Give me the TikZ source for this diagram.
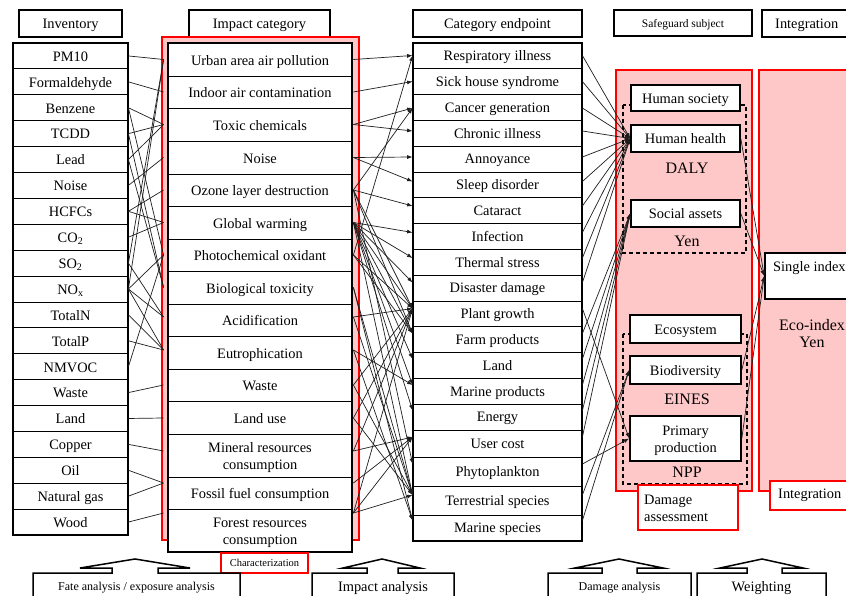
\documentclass[tikz,border=0pt]{standalone}
\usepackage{fontspec}
\setmainfont{Liberation Serif}
\usetikzlibrary{arrows.meta,calc}
\definecolor{pinkfill}{RGB}{255,200,200}
\definecolor{framered}{RGB}{255,0,0}
\definecolor{linkgray}{RGB}{30,30,30}
\begin{document}
\begin{tikzpicture}[x=1pt,y=-1pt,
  mainfont/.style={font=\fontsize{14.4}{17}\selectfont},
  cell/.style={draw, line width=0.8pt, fill=white, inner sep=0pt},
  one/.style={inner sep=0pt, mainfont, text height=9.8pt, text depth=3.1pt},
  two/.style={inner sep=0pt, mainfont, align=center},
  head/.style={draw, line width=1.6pt, fill=white, inner sep=0pt},
  sbox/.style={draw, line width=1.6pt, fill=white, inner sep=0pt},
  unit/.style={font=\fontsize{16}{18}\selectfont, inner sep=0pt},
  link/.style={draw=linkgray, line width=0.7pt},
  alink/.style={link, -{Latex[length=5.5pt,width=4pt]}},
  redbox/.style={draw=framered, line width=1.8pt, fill=white, inner sep=0pt},
  pinkframe/.style={draw=framered, line width=2pt, fill=pinkfill},
  dashframe/.style={draw, line width=1.2pt, dash pattern=on 4pt off 3pt},
  tool/.style={draw, line width=1.5pt, fill=white, line join=miter}
]
\clip (0,0) rectangle (846,596);
\fill[white] (0,0) rectangle (846,596);

% ---------- column headers ----------
\node[head, minimum width=103pt, minimum height=27pt] (hInv) at (70.5,23.5) {};
\node[one] (hInvT) at ([yshift=-2pt]hInv.center) {Inventory};
\node[head, minimum width=141pt, minimum height=27pt] (hImp) at (259.5,23.5) {};
\node[one] (hImpT) at ([yshift=-2pt]hImp.center) {Impact category};
\node[head, minimum width=169pt, minimum height=27pt] (hEnd) at (497.5,23.5) {};
\node[one] (hEndT) at ([yshift=-2pt]hEnd.center) {Category endpoint};
\node[head, minimum width=138pt, minimum height=26pt] (hSafe) at (683,23) {};
\node[inner sep=0pt, font=\fontsize{11.5}{13}\selectfont, text height=7.8pt, text depth=2.5pt] (hSafeT) at ([yshift=-1.5pt]hSafe.center) {Safeguard subject};
\node[head, minimum width=90pt, minimum height=27pt] (hInt) at (807,23.5) {};
\node[one, anchor=west] (hIntT) at (775,25.5) {Integration};

% ---------- pink frames ----------
\path[pinkframe] (162,37) rectangle (359,540);
\path[pinkframe] (616,70) rectangle (752,491);
\path[pinkframe] (759,70) rectangle (852,491);

% ---------- inventory ----------
\foreach \txt [count=\i from 0] in {PM10, Formaldehyde, Benzene, TCDD, Lead, Noise, HCFCs,
    CO\textsubscript{2}, SO\textsubscript{2}, NO\textsubscript{x}, TotalN, TotalP, NMVOC,
    Waste, Land, Copper, Oil, Natural gas, Wood} {
  \node[cell, minimum width=115pt, minimum height=25.895pt] (inv-\i)
    at (70.5,{43+25.895*\i+12.9475}) {};
  \node[one] (inv-\i-t) at ([yshift=-2pt]inv-\i.center) {\txt};
}
\draw[line width=1.6pt] (13,43) rectangle (128,535);

% ---------- impact categories (text / top / bottom / text style / link height) ----------
\foreach \txt/\a/\b/\st/\cy [count=\i from 0] in {Urban area air pollution/43/76/one/59.5,
    Indoor air contamination/76/108/one/92, Toxic chemicals/108/141/one/124.5,
    Noise/141/174/one/157.5, Ozone layer destruction/174/206/one/190,
    Global warming/206/239/one/222.5, Photochemical oxidant/239/271/one/255,
    Biological toxicity/271/304/one/287.5, Acidification/304/336/one/317,
    Eutrophication/336/369/one/350, Waste/369/401/one/385,
    Land use/401/434/one/418, Mineral resources\\consumption/434/477/two/451,
    Fossil fuel consumption/477/509/one/483, Forest resources\\consumption/509/552/two/513} {
  \node[cell, minimum width=184pt, minimum height={(\b-\a)*1pt}] (imp-\i)
    at (260,{(\a+\b)/2}) {};
  \node[\st] (imp-\i-t) at ([yshift=-2.2pt]imp-\i.center) {\txt};
  \coordinate (impL-\i) at ($(imp-\i.west |- 0,\cy)+(-4,0)$);
  \coordinate (impR-\i) at ($(imp-\i.east |- 0,\cy)+(1,0)$);
}
\draw[line width=1.6pt] (168,43) rectangle (352,552);

% ---------- category endpoints (text / top / bottom / link height) ----------
\foreach \txt/\a/\b/\cy [count=\i from 0] in {Respiratory illness/43/68.8/55.5,
    Sick house syndrome/68.8/94.6/81.5, Cancer generation/94.6/120.4/108,
    Chronic illness/120.4/146.2/131, Annoyance/146.2/172/157,
    Sleep disorder/172/197.8/181.5, Cataract/197.8/223.6/206,
    Infection/223.6/249.4/232.5, Thermal stress/249.4/275.2/258,
    Disaster damage/275.2/301/282.5, Plant growth/301/326.8/308.5,
    Farm products/326.8/352.6/333.5, Land/352.6/378.4/359,
    Marine products/378.4/404.2/385, Energy/404.2/430/410.5,
    User cost/430/457/437, Phytoplankton/457/486/464,
    Terrestrial species/486/515/495, Marine species/515/541/520.5} {
  \node[cell, minimum width=169pt, minimum height={(\b-\a)*1pt}] (end-\i)
    at (497.5,{(\a+\b)/2}) {};
  \node[one] (end-\i-t) at ([yshift=-1.5pt]end-\i.center) {\txt};
  \coordinate (endL-\i) at (end-\i.west |- 0,\cy);
  \coordinate (endR-\i) at (end-\i.east |- 0,\cy);
}
\draw[line width=1.6pt] (413,43) rectangle (582,541);

% ---------- safeguard subjects ----------
\draw[dashframe] (623,105) rectangle (746,253);
\draw[dashframe] (623,334) rectangle (747,484);
\node[sbox, minimum width=109pt, minimum height=26pt] (hs)  at (685.5,98)    {};
\node[sbox, minimum width=109pt, minimum height=27pt] (hh)  at (685.5,138.5) {};
\node[sbox, minimum width=109pt, minimum height=27pt] (sa)  at (685.5,213.5) {};
\node[sbox, minimum width=111pt, minimum height=28pt] (eco) at (685.5,329)   {};
\node[sbox, minimum width=111pt, minimum height=28pt] (bio) at (685.5,370)   {};
\node[sbox, minimum width=111pt, minimum height=45pt] (pp)  at (685.5,438.5) {};
\node[one] (hsT)  at ([yshift=-2pt]hs.center)  {Human society};
\node[one] (hhT)  at ([yshift=-2pt]hh.center)  {Human health};
\node[one] (saT)  at ([yshift=-2pt]sa.center)  {Social assets};
\node[one] (ecoT) at ([yshift=-2pt]eco.center) {Ecosystem};
\node[one] (bioT) at ([yshift=-2pt]bio.center) {Biodiversity};
\node[two] (ppT)  at ([yshift=-2.5pt]pp.center) {Primary\\production};
\node[unit] (uDaly) at (687,168.5) {DALY};
\node[unit] (uYen)  at (687,241.5) {Yen};
\node[unit] (uEin)  at (687,399.5) {EINES};
\node[unit] (uNpp)  at (687,472.5) {NPP};
\node[redbox, minimum width=100pt, minimum height=45pt] (dmg) at (688,507.5) {};
\node[mainfont, anchor=west, align=left, inner sep=0pt] (dmgT) at (644,508.5) {Damage\\assessment};

% ---------- integration ----------
\node[sbox, minimum width=87pt, minimum height=46pt] (si) at (808.5,276) {};
\node[mainfont, anchor=west, inner sep=0pt] (siT) at (773,268) {Single index};
\node[unit, align=center] (ecoIdx) at (812,334) {Eco-index\\[-1pt]Yen};
\node[redbox, minimum width=82pt, minimum height=29pt] (ig) at (811,495.5) {};
\node[mainfont, anchor=west, inner sep=0pt] (igT) at (778,495) {Integration};

% ---------- inventory -> impact category ----------
\foreach \a/\b in {0/0, 1/1, 2/2, 2/6, 3/2, 3/7, 4/2, 4/7, 5/3, 6/4, 6/5, 7/5,
    8/0, 8/8, 9/0, 9/6, 9/8, 9/9, 10/9, 11/9, 12/6, 13/10, 14/11, 15/12,
    16/13, 17/13, 18/14}
  \draw[link] (inv-\a.east) -- (impL-\b);

% ---------- impact category -> category endpoint ----------
\foreach \a/\b in {0/0, 1/1, 2/2, 2/3, 3/4, 3/5, 4/2, 4/6, 4/10, 4/11, 4/16,
    5/7, 5/8, 5/9, 5/10, 5/11, 5/12, 5/13, 5/14, 5/17, 6/0, 6/10, 6/11,
    7/17, 7/18, 8/10, 8/17, 9/13, 9/18, 10/10, 10/17, 11/10, 11/17,
    12/15, 12/10, 13/15, 14/10, 14/15, 14/17}
  \draw[alink] (impR-\a) -- (endL-\b);

% ---------- category endpoint -> safeguard subject ----------
\foreach \a in {0,...,9}
  \draw[alink] (endR-\a) -- (hh.west);
\foreach \a in {11,...,15}
  \draw[alink] (endR-\a) -- (sa.west);
\foreach \a in {17,18}
  \draw[alink] (endR-\a) -- (bio.west);
\foreach \a in {10,16}
  \draw[alink] (endR-\a) -- (pp.west);

% ---------- safeguard subject -> integration ----------
\foreach \s in {hh, sa, bio, pp}
  \draw[alink] (\s.east) -- (si.west);

% ---------- characterization label ----------
\node[redbox, minimum width=87pt, minimum height=20pt] (chr) at (264.5,563) {};
\node[inner sep=0pt, font=\fontsize{10.5}{12}\selectfont, text height=7.2pt, text depth=2.3pt] (chrT) at ([yshift=-1pt]chr.center) {Characterization};

% ---------- analysis steps with upward block arrows ----------
\foreach \nm/\l/\r/\tl/\sl/\pk/\sr/\tr in {fate/33/240/80/112/135/158/190,
    impa/312/454/343/367/382/398/420, dama/548/691/575/602/619/637/663,
    weig/697/826/720/747/762/782/803} {
  \draw[tool] (\l,600) -- (\l,573) -- (\sl,573) -- (\sl,568) -- (\tl,568) -- (\pk,559)
     -- (\tr,568) -- (\sr,568) -- (\sr,573) -- (\r,573) -- (\r,600);
  \coordinate (\nm) at ({(\l+\r)/2},588);
}
\node[inner sep=0pt, font=\fontsize{12}{14}\selectfont, text height=8.2pt, text depth=2.6pt] (fateT) at (fate) {Fate analysis / exposure analysis};
\node[one] (impaT) at (impa) {Impact analysis};
\node[inner sep=0pt, font=\fontsize{12}{14}\selectfont, text height=8.2pt, text depth=2.6pt] (damaT) at (dama) {Damage analysis};
\node[one] (weigT) at (weig) {Weighting};
\end{tikzpicture}
\end{document}
